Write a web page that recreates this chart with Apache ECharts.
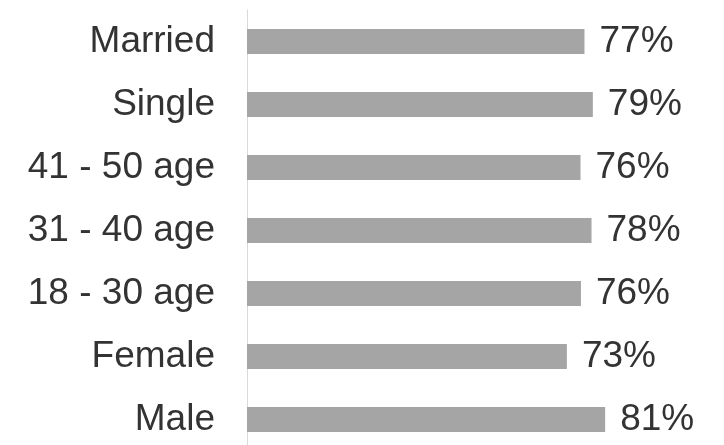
<!DOCTYPE html>
<html>
<head>
<meta charset="utf-8">
<script src="https://cdn.jsdelivr.net/npm/echarts@6/dist/echarts.min.js"></script>
<style>html,body{margin:0;padding:0;background:#fff;overflow:hidden}#c{width:724px;height:460px}</style>
</head>
<body>
<div id="c"></div>
<script>
var categories = ["Male", "Female", "18 - 30 age", "31 - 40 age", "41 - 50 age", "Single", "Married"];
var values = [81.4, 72.7, 75.9, 78.3, 75.8, 78.6, 76.7];

var chart = echarts.init(document.getElementById('c'), null, {renderer: 'canvas'});
chart.setOption({
  animation: false,
  backgroundColor: '#ffffff',
  grid: {left: 247, width: 440, top: 10, height: 441, containLabel: false},
  xAxis: {
    type: 'value', min: 0, max: 100,
    show: false
  },
  yAxis: {
    type: 'category',
    data: categories,
    axisLine: {show: true, lineStyle: {color: '#d9d9d9', width: 1}},
    axisTick: {show: false},
    axisLabel: {
      margin: 32,
      fontFamily: 'Liberation Sans, Arial, sans-serif',
      fontSize: 37,
      color: '#333333',
      padding: [6, 0, 0, 0]
    },
    splitLine: {show: false}
  },
  series: [{
    type: 'bar',
    data: values,
    barWidth: 25,
    itemStyle: {color: '#a5a5a5'},
    label: {
      show: true,
      position: 'right',
      distance: 15,
      fontFamily: 'Liberation Sans, Arial, sans-serif',
      fontSize: 37,
      color: '#333333',
      padding: [6, 0, 0, 0],
      formatter: function (p) { return Math.round(p.value) + '%'; }
    }
  }]
});
</script>
</body>
</html>
